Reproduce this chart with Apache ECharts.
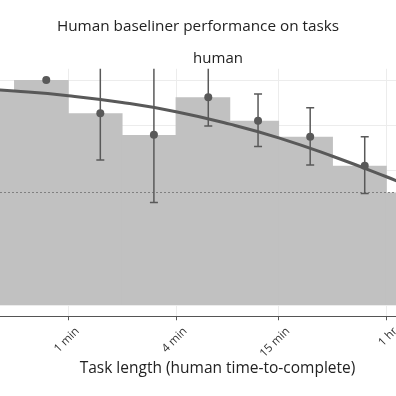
<!DOCTYPE html>
<html>
<head>
<meta charset="utf-8">
<script src="https://cdn.jsdelivr.net/npm/echarts@6/dist/echarts.min.js"></script>
<style>html,body{margin:0;padding:0;background:#fff}#c{width:396px;height:396px}</style>
</head>
<body>
<div id="c"></div>
<script>
// ---- data (minutes, success rate) ----
const binLow   = [0.25, 0.5, 1, 2, 4, 8, 15, 30, 60];
const binHigh  = [0.5, 1, 2, 4, 8, 15, 30, 60, 120];
const binRate  = [0.956, 1.0, 0.852, 0.756, 0.923, 0.819, 0.748, 0.619, 0.50];

const pointMinutes = [0.753, 1.51, 3.01, 6.06, 11.5, 22.5, 45.4];
const pointRate    = [1.0, 0.852, 0.757, 0.923, 0.819, 0.748, 0.619];
const errLow       = [null, 0.644, 0.456, 0.796, 0.704, 0.622, 0.496];
const errHigh      = [null, 1.12, 1.12, 1.12, 0.938, 0.877, 0.748];

const curveMinutes = [0.25, 0.5, 1, 2, 4, 8, 15, 30, 60, 120];
const curveRate    = [0.967, 0.951, 0.930, 0.900, 0.859, 0.804, 0.743, 0.661, 0.570, 0.473];

const tickMinutes = [1, 4, 15, 60];
const tickLabels  = ['1 min', '4 min', '15 min', '1 hr'];
const yGridValues = [0, 0.2, 0.4, 0.6, 0.8, 1.0];
const threshold = 0.5;

const L = Math.log2;
const FONT = 'Open Sans';
const DARK = '#595959';
const BAR = '#c1c1c1';

const barData = binLow.map((lo, i) => [L(lo), L(binHigh[i]), binRate[i]]);
const pointData = pointMinutes.map((m, i) => [L(m), pointRate[i]]);
const errData = pointMinutes.map((m, i) => errLow[i] == null ? null : [L(m), errLow[i], errHigh[i]]).filter(d => d);
const curveData = curveMinutes.map((m, i) => [L(m), curveRate[i]]);
const tickPos = tickMinutes.map(L);

const chart = echarts.init(document.getElementById('c'), null, {renderer: 'canvas'});
chart.setOption({
  animation: false,
  backgroundColor: '#fff',
  title: [
    {text: 'Human baseliner performance on tasks', left: 'center', top: 14,
     textStyle: {fontFamily: FONT, fontSize: 15.3, fontWeight: 'normal', color: '#222'}},
    {text: 'human', left: 213, textAlign: 'center', top: 46,
     textStyle: {fontFamily: FONT, fontSize: 15, fontWeight: 'normal', color: '#222'}}
  ],
  grid: {left: 0, right: 0, top: 68.75, height: 247.5, containLabel: false, outerBoundsMode: 'none'},
  xAxis: {
    type: 'value', min: -1.2683, max: 6.0854,
    name: 'Task length (human time-to-complete)', nameLocation: 'middle', nameGap: 44, nameMoveOverlap: false,
    nameTextStyle: {fontFamily: FONT, fontSize: 15.5, color: '#222', padding: [0, 0, 0, 39]},
    axisLine: {show: true, onZero: false, lineStyle: {color: '#555', width: 1}},
    axisTick: {show: true, length: 4, customValues: tickPos, lineStyle: {color: '#555'}},
    axisLabel: {show: true, rotate: 45, customValues: tickPos, fontFamily: FONT, fontSize: 11.5, color: '#333',
      verticalAlign: 'top', lineHeight: 26, margin: 4, hideOverlap: false,
      formatter: v => { let k = 0; tickPos.forEach((p, i) => { if (Math.abs(p - v) < 1e-6) k = i; }); return tickLabels[k]; }},
    splitLine: {show: true, lineStyle: {color: '#ececec', width: 1}}
  },
  yAxis: {
    type: 'value', min: -0.05, max: 1.05,
    axisLine: {show: false}, axisLabel: {show: false},
    axisTick: {show: false, customValues: yGridValues},
    splitLine: {show: true, lineStyle: {color: '#ececec', width: 1}}
  },
  series: [
    {type: 'custom', clip: true, z: 1, data: barData,
     encode: {x: [0, 1], y: 2},
     renderItem: (params, api) => {
       const p0 = api.coord([api.value(0), api.value(2)]);
       const p1 = api.coord([api.value(1), 0]);
       return {type: 'rect', shape: {x: p0[0] - 0.4, y: p0[1], width: p1[0] - p0[0] + 0.8, height: p1[1] - p0[1]},
               style: {fill: BAR}};
     },
     markLine: {silent: true, symbol: 'none', label: {show: false}, z: 2,
       lineStyle: {type: [2, 2], color: '#808080', width: 1},
       data: [{yAxis: threshold}]}
    },
    {type: 'line', z: 3, data: curveData, smooth: true, showSymbol: false,
     lineStyle: {color: DARK, width: 3}, itemStyle: {color: DARK}},
    {type: 'custom', clip: true, z: 4, data: errData,
     encode: {x: 0, y: [1, 2]},
     renderItem: (params, api) => {
       const x = api.value(0);
       const a = api.coord([x, api.value(1)]);
       const b = api.coord([x, api.value(2)]);
       const w = 4;
       const st = {stroke: DARK, lineWidth: 1.5};
       return {type: 'group', children: [
         {type: 'line', shape: {x1: a[0], y1: a[1], x2: b[0], y2: b[1]}, style: st},
         {type: 'line', shape: {x1: a[0] - w, y1: a[1], x2: a[0] + w, y2: a[1]}, style: st},
         {type: 'line', shape: {x1: b[0] - w, y1: b[1], x2: b[0] + w, y2: b[1]}, style: st}
       ]};
     }},
    {type: 'scatter', z: 5, data: pointData, symbolSize: 8, itemStyle: {color: DARK, opacity: 1}}
  ]
});
</script>
</body>
</html>
